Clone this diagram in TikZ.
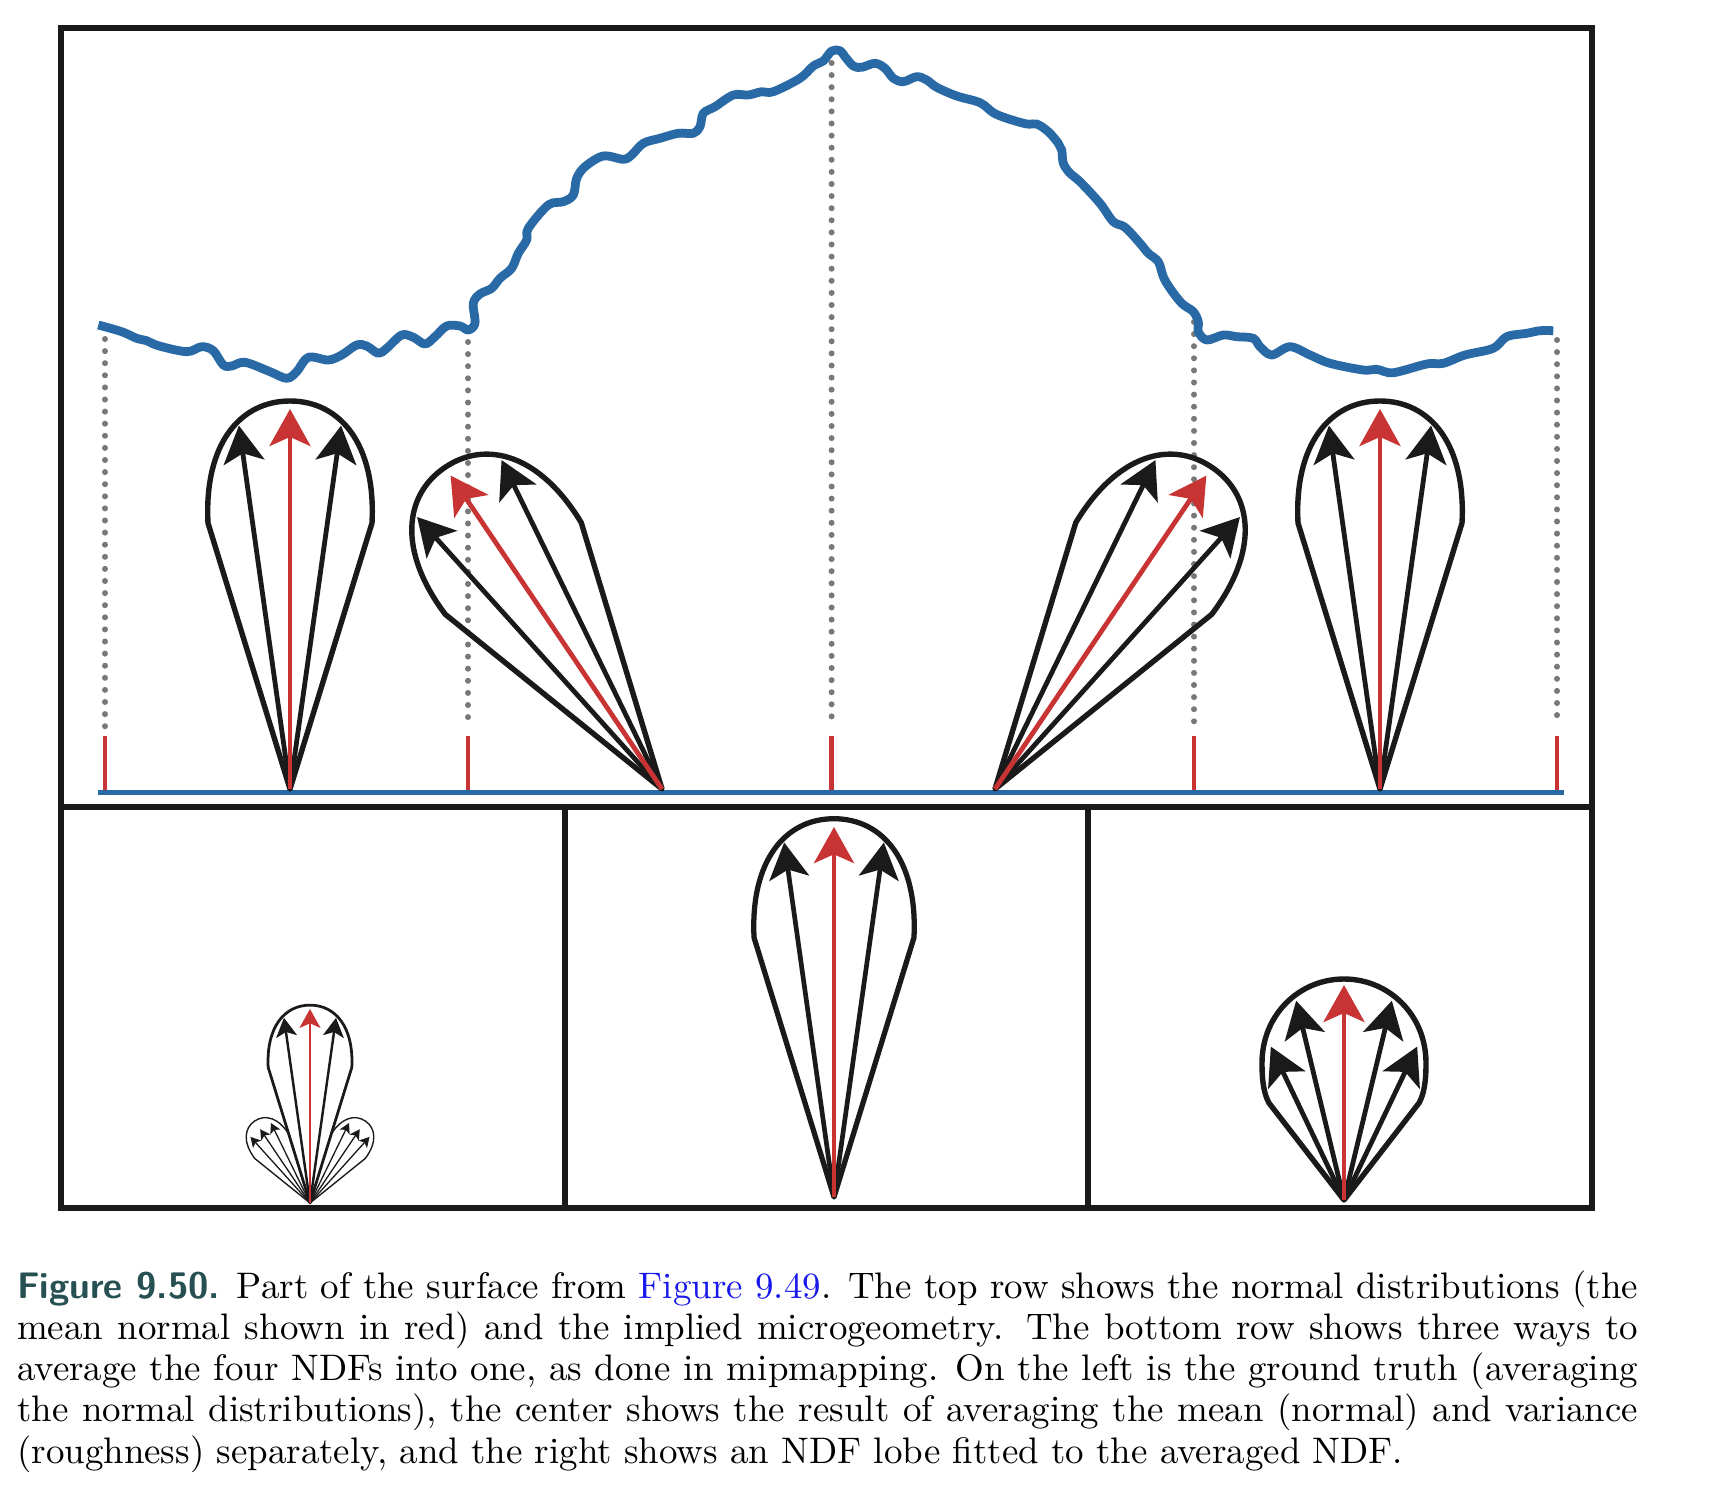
\documentclass[tikz,border=0pt]{standalone}
\usetikzlibrary{arrows.meta}
\definecolor{curveblue}{RGB}{41,105,165}
\definecolor{ndfred}{RGB}{200,52,52}
\definecolor{ink}{RGB}{26,26,26}
\definecolor{dotgray}{RGB}{120,120,120}
\definecolor{figteal}{RGB}{38,80,82}
\definecolor{linkblue}{RGB}{25,25,235}
\newlength\lastw
% teardrop outline: tip x, tip y, tilt (deg, + = right), scale
\newcommand\lobeA[4]{%
  \begin{scope}[shift={(#1,#2)}, rotate=-#3, scale=#4]
    \pgfmathsetmacro\olw{5.4*#4}
    \draw[lobeline, line width=\olw pt] (0,0) -- (-82,-266)
      .. controls (-86,-345) and (-50,-388) .. (0,-388)
      .. controls (50,-388) and (86,-345) .. (82,-266) -- cycle;
  \end{scope}}
% arrow: colour, tip x, tip y, angle (+ = right), length, scale
\newcommand\ndfarrow[6]{%
  \pgfmathsetmacro\arL{37*#6}\pgfmathsetmacro\arW{41*#6}%
  \pgfmathsetmacro\arI{9*#6}\pgfmathsetmacro\arLW{4.8*#6}%
  \pgfmathsetmacro\arA{-90+#4}%
  \draw[#1, line width=\arLW pt, line cap=butt,
    -{Stealth[length=\arL pt, width=\arW pt, inset=\arI pt]}] (#2,#3) -- ++(\arA:#5);}
\begin{document}
\settowidth\lastw{\fontsize{10}{12}\selectfont (roughness) separately, and the right shows an NDF lobe fitted to the averaged NDF.}%
\pgfmathsetmacro\capsc{1386/\lastw}%
\pgfmathsetmacro\capline{1621/\capsc}%
\begin{tikzpicture}[x=1pt,y=-1pt,
  lobeline/.style={draw=ink, line join=round},
  frame/.style={draw=ink, line width=6pt},
  dots/.style={dotgray, line width=6pt, line cap=round, dash pattern=on 0pt off 12.1pt},
  tick/.style={ndfred, line width=4.5pt},
  captext/.style={inner sep=0pt, anchor=base west, text=black},
]
\useasboundingbox (0,0) rectangle (1718,1502);
\fill[white] (0,0) rectangle (1718,1502);

% ---------- frame ----------
\draw[frame] (61,28) rectangle (1592,1208);
\draw[frame] (61,807) -- (1592,807);
\draw[frame] (565,807) -- (565,1208);
\draw[frame] (1088,807) -- (1088,1208);

% ---------- dotted guides and red ticks ----------
\foreach \x/\y in {105/339, 468/342, 831.6/63, 1194/322, 1557/340}{
  \draw[dots] (\x,\y) -- (\x,727);
  \draw[tick] (\x,736) -- (\x,792);
}

% ---------- base line ----------
\draw[curveblue, line width=5.5pt] (98,792.5) -- (1564,792.5);

% ---------- rough surface ----------
\draw[curveblue, line width=8.8pt, line join=round] plot[smooth, tension=0.55] coordinates {
(98.3,325) (121.7,331.7) (136.7,338.3) (146.7,340.7) (158.3,345.7) (186.7,351.7) (201.7,346.7) (213.3,350.7) (223.3,365) (231.7,366) (245,362.3) (270,371.7) (286.7,378.3) (296.7,371.7) (308.3,357.3) (328.3,360) (341.7,355) (356.7,345) (366.7,346) (378.3,353.3) (386.7,348.3) (401.7,335) (413.3,337.3) (425,344) (435,336.7) (446.7,326) (460,326) (468.3,330) (475,323.3) (473.3,303.3) (480,294) (491.7,288.3) (500,278.3) (511.7,268.3) (518.3,253.3) (526.7,240) (528.3,228.3) (548.3,205) (563.3,201.7) (573.3,195) (576.7,178.3) (585,166.7) (603.3,156) (623.3,159.3) (631.7,155) (643.3,143.3) (660,138.3) (678.3,133.3) (693.3,133.3) (700,126.7) (703.3,113.3) (715,106.7) (733.3,95) (748.3,95) (761.7,91.7) (773.3,91.7) (800,78.3) (813.3,66) (823.3,61) (831.7,51) (840,50.7) (845,56.7) (853.3,66) (861.7,67.3) (875,63.3) (885,68.3) (893.3,78.3) (903.3,81.7) (916.7,76.7) (926.7,80) (936.7,87.3) (956.7,96) (980,102.7) (993.3,112.7) (1006.7,118.3) (1026.7,124) (1036.7,124) (1048.3,131.7) (1058.3,143.3) (1061.7,150) (1063.3,163.3) (1070,173.3) (1080,181.7) (1100,203.3) (1113.3,221.7) (1125,227.3) (1140,243.3) (1148.3,253.3) (1158.3,261.7) (1163.3,276.7) (1170,288.3) (1181.7,303.3) (1193.3,311.7) (1198.3,321.7) (1198.3,331.7) (1206.7,340) (1223.3,335) (1236.7,336.7) (1253.3,338.3) (1260,346.7) (1271.7,355) (1290,346.7) (1310,355) (1330,363.3) (1363.3,370) (1376.7,369.3) (1393.3,372.7) (1426.7,364) (1443.3,363.3) (1465,355) (1493.3,348.3) (1506.7,336.7) (1526.7,333.3) (1540,330.7) (1553.3,330.7)};

% ---------- top row lobes ----------
% A
\lobeA{290}{789}{0}{1}
\ndfarrow{ink}{290}{789}{-8}{367}{1}
\ndfarrow{ink}{290}{789}{8}{367}{1}
\ndfarrow{ndfred}{290}{789}{0}{380}{1}
% B
\lobeA{662}{789}{-34}{1}
\ndfarrow{ink}{662}{789}{-42}{366}{1}
\ndfarrow{ink}{662}{789}{-26}{366}{1}
\ndfarrow{ndfred}{662}{789}{-34}{378}{1}
% C
\lobeA{995}{789}{34}{1}
\ndfarrow{ink}{995}{789}{42}{366}{1}
\ndfarrow{ink}{995}{789}{26}{366}{1}
\ndfarrow{ndfred}{995}{789}{34}{378}{1}
% D
\lobeA{1380}{789}{0}{1}
\ndfarrow{ink}{1380}{789}{-8}{367}{1}
\ndfarrow{ink}{1380}{789}{8}{367}{1}
\ndfarrow{ndfred}{1380}{789}{0}{380}{1}

% ---------- bottom left: ground truth ----------
\lobeA{310}{1203}{-34}{0.255}
\lobeA{310}{1203}{34}{0.255}
\foreach \a in {26,34,42}{
  \ndfarrow{ink}{310}{1203}{-\a}{89}{0.27}
  \ndfarrow{ink}{310}{1203}{\a}{89}{0.27}
}
\lobeA{310}{1203}{0}{0.51}
\ndfarrow{ink}{310}{1203}{-8}{187}{0.51}
\ndfarrow{ink}{310}{1203}{8}{187}{0.51}
\ndfarrow{ndfred}{310}{1203}{0}{194}{0.51}

% ---------- bottom middle: averaged mean and variance ----------
\lobeA{834}{1197}{0}{0.975}
\ndfarrow{ink}{834}{1197}{-8}{358}{0.975}
\ndfarrow{ink}{834}{1197}{8}{358}{0.975}
\ndfarrow{ndfred}{834}{1197}{0}{370}{0.975}

% ---------- bottom right: fitted lobe ----------
\begin{scope}[shift={(1344,1200)}]
  \draw[lobeline, line width=5.4pt] (0,0) -- (-75,-97)
    .. controls (-80,-106) and (-82,-118) .. (-82,-137)
    .. controls (-82,-185) and (-45,-221) .. (0,-221)
    .. controls (45,-221) and (82,-185) .. (82,-137)
    .. controls (82,-118) and (80,-106) .. (75,-97) -- cycle;
\end{scope}
\ndfarrow{ink}{1344}{1200}{-25.5}{170}{1}
\ndfarrow{ink}{1344}{1200}{25.5}{170}{1}
\ndfarrow{ink}{1344}{1200}{-13.5}{205}{1}
\ndfarrow{ink}{1344}{1200}{13.5}{205}{1}
\ndfarrow{ndfred}{1344}{1200}{0}{215}{1}

% ---------- caption ----------
\node[captext] (cap1) at (17,1298) {\scalebox{\capsc}{\fontsize{10}{12}\selectfont\makebox[\capline pt][s]{{\sffamily\bfseries\color{figteal}Figure 9.50.} Part of the surface from {\color{linkblue}Figure 9.49}. The top row shows the normal distributions (the}}};
\node[captext] (cap2) at (17,1339.3) {\scalebox{\capsc}{\fontsize{10}{12}\selectfont\makebox[\capline pt][s]{mean normal shown in red) and the implied microgeometry. The bottom row shows three ways to}}};
\node[captext] (cap3) at (17,1380.5) {\scalebox{\capsc}{\fontsize{10}{12}\selectfont\makebox[\capline pt][s]{average the four NDFs into one, as done in mipmapping. On the left is the ground truth (averaging}}};
\node[captext] (cap4) at (17,1421.8) {\scalebox{\capsc}{\fontsize{10}{12}\selectfont\makebox[\capline pt][s]{the normal distributions), the center shows the result of averaging the mean (normal) and variance}}};
\node[captext] (cap5) at (17,1463) {\scalebox{\capsc}{\fontsize{10}{12}\selectfont (roughness) separately, and the right shows an NDF lobe fitted to the averaged NDF.}};
\end{tikzpicture}
\end{document}
